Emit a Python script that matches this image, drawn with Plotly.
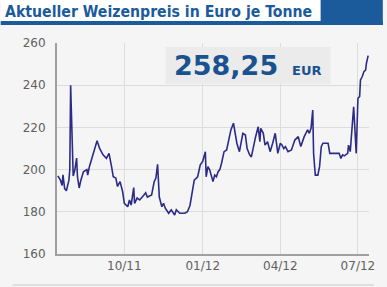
import plotly.graph_objects as go

dates = [
    "2011-07-15", "2011-07-18", "2011-07-20", "2011-07-21", "2011-07-23", "2011-07-25",
    "2011-07-28", "2011-07-29", "2011-07-30", "2011-08-01", "2011-08-02", "2011-08-04",
    "2011-08-06", "2011-08-07", "2011-08-09", "2011-08-11", "2011-08-14", "2011-08-18",
    "2011-08-19", "2011-08-21", "2011-08-24", "2011-08-25", "2011-08-28", "2011-08-30",
    "2011-09-02", "2011-09-06", "2011-09-10", "2011-09-13", "2011-09-16", "2011-09-18",
    "2011-09-21", "2011-09-23", "2011-09-26", "2011-09-29", "2011-10-01", "2011-10-03",
    "2011-10-05", "2011-10-07", "2011-10-09", "2011-10-12", "2011-10-13", "2011-10-16",
    "2011-10-19", "2011-10-24", "2011-10-26", "2011-10-28", "2011-11-02", "2011-11-05",
    "2011-11-07", "2011-11-09", "2011-11-10", "2011-11-11", "2011-11-14", "2011-11-16",
    "2011-11-18", "2011-11-22", "2011-11-25", "2011-11-29", "2011-12-01", "2011-12-05",
    "2011-12-11", "2011-12-14", "2011-12-17", "2011-12-20", "2011-12-22", "2011-12-26",
    "2011-12-29", "2012-01-01", "2012-01-04", "2012-01-05", "2012-01-07", "2012-01-09",
    "2012-01-11", "2012-01-13", "2012-01-15", "2012-01-17", "2012-01-19", "2012-01-21",
    "2012-01-23", "2012-01-26", "2012-01-29", "2012-02-01", "2012-02-03", "2012-02-06",
    "2012-02-08", "2012-02-10", "2012-02-13", "2012-02-15", "2012-02-17", "2012-02-20",
    "2012-02-22", "2012-02-25", "2012-02-27", "2012-03-03", "2012-03-06", "2012-03-08",
    "2012-03-09", "2012-03-12", "2012-03-14", "2012-03-17", "2012-03-20", "2012-03-23",
    "2012-03-26", "2012-03-29", "2012-04-01", "2012-04-03", "2012-04-05", "2012-04-07",
    "2012-04-10", "2012-04-14", "2012-04-18", "2012-04-22", "2012-04-25", "2012-04-29",
    "2012-05-03", "2012-05-05", "2012-05-07", "2012-05-09", "2012-05-10", "2012-05-12",
    "2012-05-15", "2012-05-17", "2012-05-19", "2012-05-21", "2012-05-27", "2012-05-29",
    "2012-06-09", "2012-06-11", "2012-06-13", "2012-06-15", "2012-06-19", "2012-06-20",
    "2012-06-22", "2012-06-26", "2012-06-29", "2012-07-01", "2012-07-03", "2012-07-04",
    "2012-07-06", "2012-07-08", "2012-07-10", "2012-07-11", "2012-07-12", "2012-07-13",
]
prices = [
    197, 195, 192.5, 197.5, 191, 190,
    195, 200, 240, 211, 197, 200,
    205.5, 196.6, 191.3, 195, 199, 200,
    197.4, 201.4, 205.3, 207, 211, 213.7,
    210, 207, 205.3, 207.7, 201.4, 196.6,
    196, 192, 194.3, 189.5, 184, 183.2,
    182.4, 185.6, 183.2, 191.5, 184, 186.5,
    185.6, 188, 189, 187, 188, 194.3,
    196, 202.5, 196.6, 187, 182.4, 184,
    181.7, 179.3, 180.9, 178.5, 181, 179.3,
    179.3, 180, 183, 190.3, 195, 196.6,
    202.2, 204, 208.5, 196.6, 201.4, 200,
    196.6, 194.3, 197.4, 196.6, 199, 200,
    203, 208.5, 209.3, 215.6, 218.8, 222,
    217.2, 212.5, 208.5, 214, 217.2, 216.4,
    210, 207, 206, 215.6, 220.3, 213.2,
    219.6, 217.2, 211.6, 213.2, 208.5, 212.5,
    217.2, 207.7, 212.5, 211.6, 210, 210.9,
    208.5, 209.3, 214, 215.6, 210.9, 215.6,
    218.8, 217.2, 219.6, 228.2, 207.7, 197.4,
    197.4, 201.4, 210.9, 212.5, 212.5, 207.7,
    207.7, 205.3, 207, 206.5, 207.7, 211.6,
    208.5, 229.8, 207.7, 233.8, 234.6, 242.5,
    244, 246.4, 247.2, 250.4, 253.5, 254,
]
x_ticks = ["2011-10-01", "2012-01-01", "2012-04-01", "2012-07-01"]
x_tick_labels = ["10/11", "01/12", "04/12", "07/12"]
y_ticks = [160, 180, 200, 220, 240, 260]
title_text = "Aktueller Weizenpreis in Euro je Tonne"
current_value = "258,25"
currency = "EUR"

W, H = 387, 287
L, R, T, B = 57, 14, 43, 33
pw, ph = W - L - R, H - T - B


def px(x):
    return (x - L) / pw


def py(y):
    return (H - B - y) / ph


BLUE = "#1b5b9b"
BG = "#f5f5f5"

fig = go.Figure()
fig.add_trace(go.Scatter(
    x=dates, y=prices, mode="lines",
    line=dict(color="#2c2c88", width=1.6),
    hoverinfo="skip",
))

shapes = [
    # title bar
    dict(type="rect", xref="paper", yref="paper", x0=px(0), x1=px(W), y0=py(21), y1=py(0),
         fillcolor="white", line=dict(width=0), layer="above"),
    dict(type="rect", xref="paper", yref="paper", x0=px(324), x1=px(W), y0=py(25), y1=py(0),
         fillcolor=BLUE, line=dict(width=0), layer="above"),
    dict(type="rect", xref="paper", yref="paper", x0=px(0), x1=px(W), y0=py(25), y1=py(21),
         fillcolor=BLUE, line=dict(width=0), layer="above"),
    # value box
    dict(type="rect", xref="paper", yref="paper", x0=px(167), x1=px(334), y0=py(84), y1=py(47),
         fillcolor="#ebebeb", line=dict(width=0), layer="above"),
    # bottom separator
    dict(type="line", xref="paper", yref="paper", x0=px(12), x1=px(378), y0=py(285), y1=py(285),
         line=dict(color="#c8c8c8", width=1), layer="above"),
]

annotations = [
    dict(text="<b>" + title_text + "</b>", xref="paper", yref="paper",
         x=px(2), y=py(11), xanchor="left", yanchor="middle", showarrow=False,
         font=dict(family="DejaVu Sans Condensed, DejaVu Sans", size=15.7, color=BLUE)),
    dict(text="<b>" + current_value + "</b>", xref="paper", yref="paper",
         x=px(173), y=py(65), xanchor="left", yanchor="middle", showarrow=False,
         font=dict(family="DejaVu Sans", size=27, color="#1a5290")),
    dict(text="<b>" + currency + "</b>", xref="paper", yref="paper",
         x=px(293), y=py(70), xanchor="left", yanchor="middle", showarrow=False,
         font=dict(family="DejaVu Sans", size=13, color="#1a5290")),
]

fig.update_layout(
    width=W, height=H,
    margin=dict(l=L, r=R, t=T, b=B, pad=0),
    paper_bgcolor=BG, plot_bgcolor=BG,
    showlegend=False,
    shapes=shapes,
    annotations=annotations,
    xaxis=dict(
        type="date", range=["2011-07-14", "2012-07-14"],
        tickvals=x_ticks, ticktext=x_tick_labels,
        showgrid=True, gridcolor="#dcdcdc", gridwidth=1,
        showline=True, linecolor="#a0a0a0", linewidth=2,
        ticks="", tickfont=dict(family="DejaVu Sans", size=12, color="#606060"),
        zeroline=False,
    ),
    yaxis=dict(
        range=[160, 260], tickvals=y_ticks,
        showgrid=True, gridcolor="#dcdcdc", gridwidth=1,
        showline=True, linecolor="#a0a0a0", linewidth=2,
        ticks="outside", ticklen=7, tickcolor=BG,
        tickfont=dict(family="DejaVu Sans", size=12, color="#606060"),
        zeroline=False,
    ),
)

fig.write_html("out.html")
